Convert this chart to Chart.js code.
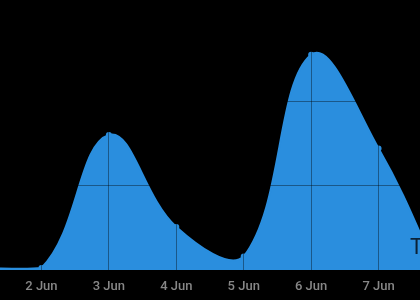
<!DOCTYPE html>
<html>
<head>
<meta charset="utf-8">
<script src="https://cdn.jsdelivr.net/npm/chart.js@4"></script>
<style>
  html, body { margin: 0; padding: 0; background: #000; }
  #view { position: relative; width: 420px; height: 300px; overflow: hidden; }
  #chart { position: absolute; left: -26px; top: 0; display: block; }
</style>
</head>
<body>
<div id="view">
  <canvas id="chart" width="472" height="300"></canvas>
</div>
<script>
// one point per day; 1 Jun and 8 Jun sit just off the cropped edges
const days = [1, 2, 3, 4, 5, 6, 7, 8];
const values = [0.25, 0.25, 16.0, 5.1, 1.6, 25.5, 14.4, -2.5];
const tickDays = [2, 3, 4, 5, 6, 7];
const monthLabel = 'Jun';
const cornerText = 'T';

// the canvas is wider than the page and shifted left by this much
const cropLeft = 26;
const viewWidth = 420;

const blue = '#2a8ede';

const cornerLabel = {
  id: 'cornerLabel',
  afterDatasetsDraw(chart) {
    const {ctx, chartArea} = chart;
    ctx.save();
    ctx.fillStyle = '#0b2236';
    ctx.font = '22px Roboto';
    ctx.textBaseline = 'alphabetic';
    ctx.fillText(cornerText, cropLeft + viewWidth - 10, chartArea.bottom - 16);
    ctx.restore();
  },
};

const ctx = document.getElementById('chart').getContext('2d');

new Chart(ctx, {
  type: 'line',
  data: {
    datasets: [
      {
        data: days.map((d, i) => ({x: d, y: values[i]})),
        borderColor: blue,
        backgroundColor: blue,
        pointBackgroundColor: blue,
        pointBorderColor: blue,
        pointRadius: 2,
        borderWidth: 2,
        tension: 0.4,
        fill: 'origin',
      },
    ],
  },
  options: {
    responsive: false,
    animation: false,
    layout: {autoPadding: false, padding: {left: 0, right: 0, top: 0, bottom: -3.6}},
    plugins: {
      legend: {display: false},
      tooltip: {enabled: false},
    },
    scales: {
      x: {
        type: 'linear',
        min: days[0],
        max: days[days.length - 1],
        border: {display: false},
        grid: {color: 'rgba(0,0,0,0.38)', drawTicks: false, tickLength: 0, z: 1},
        ticks: {
          padding: 9,
          autoSkip: false,
          maxRotation: 0,
          color: '#878787',
          font: {family: 'Roboto', size: 13, weight: '500'},
          callback: (v) => v + ' ' + monthLabel,
        },
        afterBuildTicks(scale) {
          scale.ticks = tickDays.map((d) => ({value: d}));
        },
        afterFit(scale) {
          scale.paddingLeft = 0;
          scale.paddingRight = 0;
        },
      },
      y: {
        min: 0,
        max: 32,
        border: {display: false},
        grid: {color: 'rgba(0,0,0,0.38)', drawTicks: false, tickLength: 0, z: 1},
        ticks: {display: false, stepSize: 10},
      },
    },
  },
  plugins: [cornerLabel],
});
</script>
</body>
</html>
